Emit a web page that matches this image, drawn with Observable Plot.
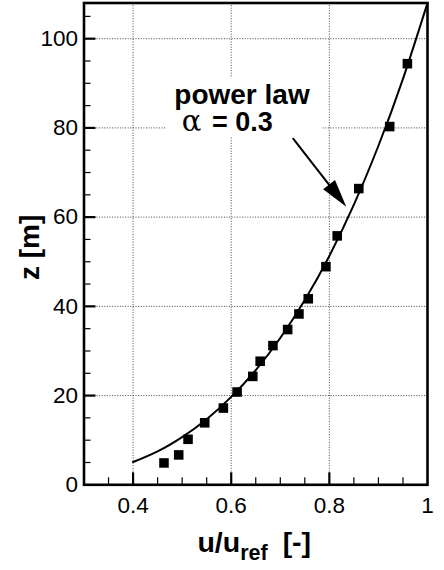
<!DOCTYPE html>
<html><head><meta charset="utf-8">
<script src="https://cdn.jsdelivr.net/npm/d3@7"></script>
<script src="https://cdn.jsdelivr.net/npm/@observablehq/plot@0.6"></script>
<style>body{margin:0;background:#fff;} svg{display:block;}</style>
</head><body><div id="chart"></div>
<script>
// measured profile (squares)
const measU = [0.959, 0.923, 0.860, 0.816, 0.793, 0.757, 0.738, 0.715, 0.685, 0.659, 0.644, 0.612, 0.584, 0.546, 0.512, 0.493, 0.463];
const measZ = [94.4, 80.3, 66.4, 55.8, 48.9, 41.7, 38.3, 34.8, 31.2, 27.7, 24.3, 20.8, 17.2, 13.9, 10.2, 6.7, 4.9];
// power-law curve
const lawU = [0.40, 0.45, 0.50, 0.55, 0.60, 0.65, 0.70, 0.75, 0.80, 0.85, 0.90, 0.95, 1.00];
const lawZ = [5.1, 7.5, 10.7, 14.7, 19.7, 25.7, 32.9, 41.4, 51.3, 62.8, 76.0, 91.0, 108.0];
// axes
const xTicks = [0.4, 0.6, 0.8, 1];
const yTicks = [0, 20, 40, 60, 80, 100];
const xMinor = [0.35, 0.45, 0.5, 0.55, 0.65, 0.7, 0.75, 0.85, 0.9, 0.95];
const yMinor = [5, 10, 15, 25, 30, 35, 45, 50, 55, 65, 70, 75, 85, 90, 95, 105];
const xGrid = [0.4, 0.6, 0.8];
const yGrid = [20, 40, 60, 80, 100];
// annotation
const noteBox = [{x1: 0.469, x2: 0.785, y1: 77.9, y2: 91.1}];
const noteLine1 = [{x: 0.484, y: 85.4, t: "power law"}];
const noteAlpha = [{x: 0.499, y: 79.2, t: "α"}];
const noteValue = [{x: 0.561, y: 79.2, t: "= 0.3"}];
const noteArrow = [{x1: 0.7265, y1: 77.6, x2: 0.8355, y2: 62.2}];

const measured = measU.map((u, i) => ({u, z: measZ[i]}));
const law = lawU.map((u, i) => ({u, z: lawZ[i]}));

const W = 444, H = 570, mL = 83.5, mR = 17, mT = 2.5, mB = 85.7;
const innerW = W - mL - mR, innerH = H - mT - mB;
const font = "'Liberation Sans', Arial, sans-serif";

const chart = Plot.plot({
  width: W, height: H,
  marginLeft: mL, marginRight: mR, marginTop: mT, marginBottom: mB,
  style: {fontFamily: font, fontSize: "22.5px", color: "black", background: "white", overflow: "visible"},
  x: {domain: [0.3, 1.0], ticks: xTicks, tickFormat: d => String(d), tickSize: 0, tickPadding: 12, label: null},
  y: {domain: [0, 108], ticks: yTicks, tickFormat: d => String(d), tickSize: 0, tickPadding: 6, label: null},
  marks: [
    Plot.ruleX(xGrid, {stroke: "#444", strokeWidth: 1, strokeDasharray: "1,1.6"}),
    Plot.ruleY(yGrid, {stroke: "#444", strokeWidth: 1, strokeDasharray: "1,1.6"}),
    Plot.rect(noteBox, {x1: "x1", x2: "x2", y1: "y1", y2: "y2", fill: "white"}),
    Plot.ruleX(xGrid, {stroke: "black", strokeWidth: 2.2, insetTop: innerH - 12}),
    Plot.ruleY(yGrid, {stroke: "black", strokeWidth: 2.2, insetRight: innerW - 12}),
    Plot.ruleX(xMinor, {stroke: "black", strokeWidth: 1.2, insetTop: innerH - 7}),
    Plot.ruleY(yMinor, {stroke: "black", strokeWidth: 1.2, insetRight: innerW - 7}),
    Plot.line(law, {x: "u", y: "z", curve: "natural", stroke: "black", strokeWidth: 2}),
    Plot.dot(measured, {x: "u", y: "z", symbol: "square", r: 5.4, fill: "black", stroke: "none"}),
    Plot.link(noteArrow, {x1: "x1", y1: "y1", x2: "x2", y2: "y2", stroke: "black",
      render(index, scales, values) {
        const g = d3.create("svg:g");
        for (const i of index) {
          const x1 = values.x1[i], y1 = values.y1[i], x2 = values.x2[i], y2 = values.y2[i];
          const dx = x2 - x1, dy = y2 - y1, L = Math.hypot(dx, dy), ux = dx / L, uy = dy / L;
          const hl = 28, hw = 7.5;
          const bx = x2 - ux * hl, by = y2 - uy * hl;
          g.append("line").attr("x1", x1).attr("y1", y1).attr("x2", bx + ux * 3).attr("y2", by + uy * 3)
            .attr("stroke", "black").attr("stroke-width", 2);
          g.append("polygon").attr("fill", "black")
            .attr("points", `${x2},${y2} ${bx - uy * hw},${by + ux * hw} ${bx + uy * hw},${by - ux * hw}`);
        }
        return g.node();
      }}),
    Plot.text(noteLine1, {x: "x", y: "y", text: "t", textAnchor: "start", lineAnchor: "bottom", fontSize: 28, fontWeight: "bold", fill: "black"}),
    Plot.text(noteAlpha, {x: "x", y: "y", text: "t", textAnchor: "start", lineAnchor: "bottom", fontSize: 29, fontFamily: "'DejaVu Serif', serif", fill: "black"}),
    Plot.text(noteValue, {x: "x", y: "y", text: "t", textAnchor: "start", lineAnchor: "bottom", fontSize: 27, fontWeight: "bold", fill: "black"}),
    Plot.frame({stroke: "black", strokeWidth: 2.6})
  ]
});

// axis titles
const svg = d3.select(chart);
const xt = svg.append("text")
  .attr("x", mL + innerW / 2 - 1).attr("y", mT + innerH + 67.4)
  .attr("text-anchor", "middle").attr("font-family", font).attr("font-weight", "bold").attr("font-size", 28.5).attr("fill", "black");
xt.append("tspan").text("u/u");
xt.append("tspan").attr("font-size", 21.5).attr("dy", 8).text("ref");
xt.append("tspan").attr("dy", -8).attr("dx", 15).text("[-]");
svg.append("text")
  .attr("transform", `translate(38.5,${mT + innerH / 2 + 4}) rotate(-90)`)
  .attr("text-anchor", "middle").attr("font-family", font).attr("font-weight", "bold").attr("font-size", 28).attr("fill", "black")
  .text("z [m]");

document.getElementById("chart").appendChild(chart);
</script></body></html>
